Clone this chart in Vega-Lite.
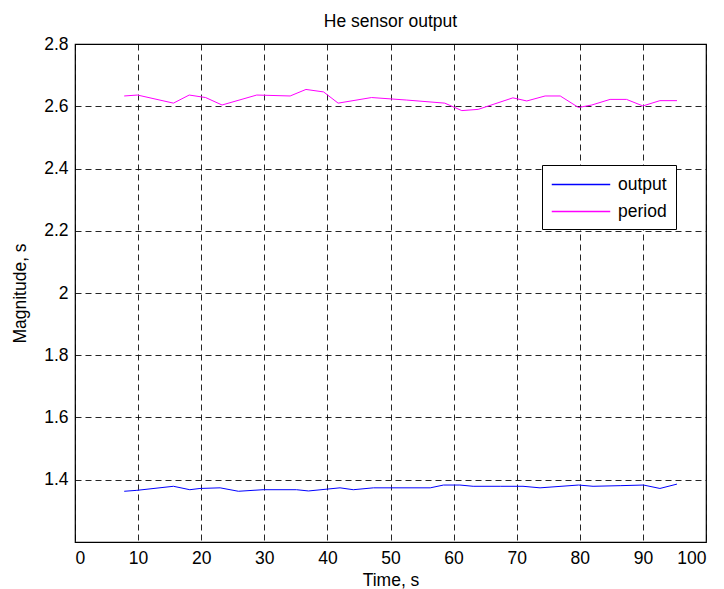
{
  "$schema": "https://vega.github.io/schema/vega-lite/v6.json",
  "width": 631,
  "height": 498,
  "autosize": "none",
  "padding": {"left": 75, "top": 44, "right": 18, "bottom": 47},
  "background": "white",
  "title": {"text": "He sensor output", "fontSize": 17.5, "fontWeight": "normal", "font": "Liberation Sans", "color": "#000", "offset": 5},
  "config": {
    "view": {"stroke": "#000", "strokeWidth": 1.2},
    "font": "Liberation Sans"
  },
  "data": {"values": [
    {"t": 7.8, "v": 1.363, "s": "output"},
    {"t": 9.8, "v": 1.366, "s": "output"},
    {"t": 15.6, "v": 1.379, "s": "output"},
    {"t": 18.2, "v": 1.368, "s": "output"},
    {"t": 19.8, "v": 1.372, "s": "output"},
    {"t": 23.0, "v": 1.374, "s": "output"},
    {"t": 25.9, "v": 1.363, "s": "output"},
    {"t": 29.8, "v": 1.368, "s": "output"},
    {"t": 35.1, "v": 1.368, "s": "output"},
    {"t": 37.0, "v": 1.364, "s": "output"},
    {"t": 42.0, "v": 1.374, "s": "output"},
    {"t": 44.1, "v": 1.368, "s": "output"},
    {"t": 47.3, "v": 1.374, "s": "output"},
    {"t": 56.3, "v": 1.374, "s": "output"},
    {"t": 58.4, "v": 1.383, "s": "output"},
    {"t": 61.0, "v": 1.383, "s": "output"},
    {"t": 63.1, "v": 1.379, "s": "output"},
    {"t": 67.4, "v": 1.379, "s": "output"},
    {"t": 71.0, "v": 1.379, "s": "output"},
    {"t": 73.7, "v": 1.374, "s": "output"},
    {"t": 79.8, "v": 1.383, "s": "output"},
    {"t": 82.1, "v": 1.379, "s": "output"},
    {"t": 86.4, "v": 1.381, "s": "output"},
    {"t": 90.1, "v": 1.383, "s": "output"},
    {"t": 92.7, "v": 1.372, "s": "output"},
    {"t": 95.4, "v": 1.386, "s": "output"},
    {"t": 7.8, "v": 2.633, "s": "period"},
    {"t": 9.9, "v": 2.636, "s": "period"},
    {"t": 15.6, "v": 2.61, "s": "period"},
    {"t": 18.1, "v": 2.636, "s": "period"},
    {"t": 20.7, "v": 2.628, "s": "period"},
    {"t": 23.3, "v": 2.604, "s": "period"},
    {"t": 28.8, "v": 2.636, "s": "period"},
    {"t": 34.1, "v": 2.633, "s": "period"},
    {"t": 36.6, "v": 2.654, "s": "period"},
    {"t": 39.4, "v": 2.646, "s": "period"},
    {"t": 41.7, "v": 2.61, "s": "period"},
    {"t": 47.0, "v": 2.628, "s": "period"},
    {"t": 52.5, "v": 2.62, "s": "period"},
    {"t": 58.6, "v": 2.61, "s": "period"},
    {"t": 61.3, "v": 2.586, "s": "period"},
    {"t": 63.9, "v": 2.59, "s": "period"},
    {"t": 69.4, "v": 2.627, "s": "period"},
    {"t": 71.6, "v": 2.617, "s": "period"},
    {"t": 74.5, "v": 2.633, "s": "period"},
    {"t": 76.9, "v": 2.633, "s": "period"},
    {"t": 79.8, "v": 2.596, "s": "period"},
    {"t": 81.9, "v": 2.604, "s": "period"},
    {"t": 84.8, "v": 2.622, "s": "period"},
    {"t": 87.4, "v": 2.622, "s": "period"},
    {"t": 90.0, "v": 2.601, "s": "period"},
    {"t": 92.7, "v": 2.618, "s": "period"},
    {"t": 95.4, "v": 2.618, "s": "period"}
  ]},
  "mark": {"type": "line", "strokeWidth": 1, "interpolate": "linear"},
  "encoding": {
    "x": {
      "field": "t", "type": "quantitative",
      "scale": {"domain": [0, 100], "nice": false, "zero": false},
      "axis": {
        "title": "Time, s", "values": [0,10,20,30,40,50,60,70,80,90,100],
        "grid": true, "gridColor": "#000", "gridOpacity": 0.85, "gridDash": [6, 4], "gridWidth": 1,
        "ticks": false, "domain": false,
        "labelFontSize": 17.5, "labelColor": "#000", "labelPadding": 7,
        "titleFontSize": 17.5, "titleFontWeight": "normal", "titleColor": "#000", "titlePadding": 5
      }
    },
    "y": {
      "field": "v", "type": "quantitative",
      "scale": {"domain": [1.2, 2.8], "nice": false, "zero": false},
      "axis": {
        "title": "Magnitude, s", "values": [1.4,1.6,1.8,2,2.2,2.4,2.6,2.8], "format": "~g",
        "grid": true, "gridColor": "#000", "gridOpacity": 0.85, "gridDash": [6, 4], "gridWidth": 1,
        "ticks": false, "domain": false,
        "labelFontSize": 17.5, "labelColor": "#000", "labelPadding": 7,
        "titleFontSize": 17.5, "titleFontWeight": "normal", "titleColor": "#000", "titlePadding": 14
      }
    },
    "color": {
      "field": "s", "type": "nominal",
      "scale": {"domain": ["output", "period"], "range": ["#0000ff", "#ff00ff"]},
      "legend": {
        "title": null, "orient": "none", "legendX": 467, "legendY": 121,
        "symbolType": "M-1,0H5", "symbolSize": 380, "symbolStrokeWidth": 1.3,
        "labelFontSize": 17.5, "labelColor": "#000", "labelOffset": 46,
        "fillColor": "#fff", "strokeColor": "#000", "padding": 9, "cornerRadius": 0,
        "rowPadding": 8
      }
    }
  }
}
